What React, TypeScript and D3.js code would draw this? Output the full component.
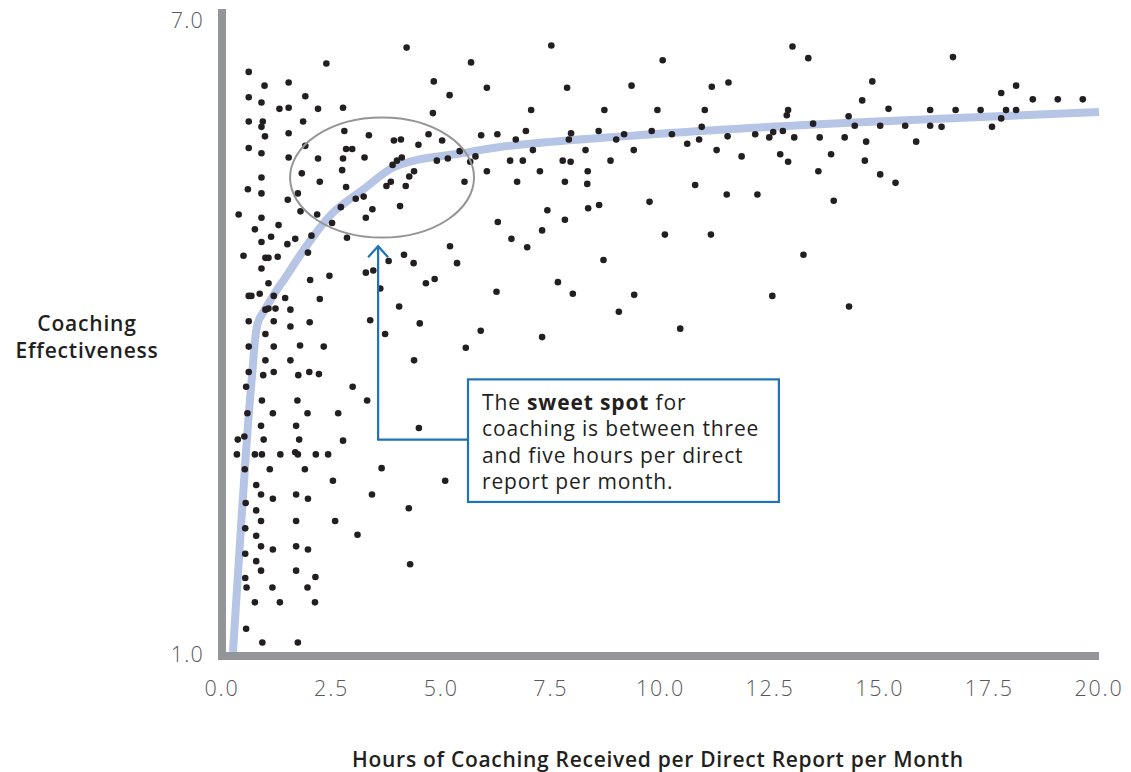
import React from "react";
import * as d3 from "d3";

const hours = [
  2.38, 0.61, 0.97, 1.52, 0.61, 0.90, 1.90, 1.31, 1.52, 2.19,
  0.61, 0.93, 0.90, 1.85, 0.98, 1.52, 0.61, 0.90, 1.90, 1.52,
  2.19, 1.82, 2.23, 0.90, 0.59, 0.90, 1.73, 1.50, 1.79, 2.17,
  0.38, 0.90, 1.29, 0.75, 1.12, 1.67, 2.04, 0.90, 1.49, 2.51,
  0.49, 0.99, 1.06, 1.27, 1.96, 0.90, 1.06, 2.01, 2.45, 0.61,
  0.67, 0.86, 1.18, 1.44, 2.23, 0.99, 1.06, 1.22, 1.56, 0.61,
  1.18, 1.56, 2.00, 0.99, 0.61, 1.18, 1.78, 2.32, 0.99, 1.56,
  0.61, 0.94, 1.18, 1.74, 1.99, 2.21, 0.55, 0.91, 1.72, 0.58,
  1.16, 1.95, 0.89, 1.69, 0.36, 0.51, 0.95, 1.76, 0.34, 0.75,
  0.91, 1.33, 1.67, 1.73, 2.14, 2.42, 0.52, 1.09, 1.89, 2.53,
  0.78, 0.89, 1.16, 1.69, 1.96, 0.54, 0.78, 0.89, 1.69, 2.58,
  0.53, 0.78, 0.89, 1.16, 1.69, 1.96, 0.53, 0.78, 0.89, 1.69,
  2.13, 0.53, 0.56, 1.15, 1.95, 0.75, 1.32, 2.12, 0.55, 0.92,
  1.73, 4.21, 5.68, 4.83, 6.04, 5.19, 2.76, 4.81, 2.79, 3.35,
  3.92, 4.08, 4.71, 4.48, 5.02, 5.91, 6.28, 2.83, 2.97, 2.76,
  3.25, 3.89, 3.99, 4.10, 5.42, 4.90, 5.15, 5.66, 5.78, 2.74,
  4.38, 4.27, 6.04, 2.83, 3.75, 3.85, 4.19, 5.53, 3.05, 3.23,
  2.71, 3.43, 4.06, 3.28, 2.85, 6.29, 5.20, 4.15, 3.80, 4.37,
  5.36, 3.28, 3.45, 4.65, 4.85, 3.61, 6.26, 4.04, 3.38, 4.51,
  3.72, 5.90, 5.56, 4.38, 2.98, 3.31, 2.65, 4.49, 2.76, 3.64,
  5.09, 3.42, 4.26, 3.09, 4.29, 7.51, 10.05, 7.87, 9.34, 7.05,
  8.72, 9.93, 6.93, 6.70, 7.96, 7.91, 8.59, 9.17, 8.99, 9.80,
  10.26, 10.88, 10.61, 7.09, 8.29, 9.39, 6.57, 6.86, 7.77, 7.95,
  8.86, 7.25, 8.34, 6.73, 7.82, 8.33, 10.79, 9.75, 7.42, 8.35,
  8.60, 7.82, 7.30, 10.10, 6.60, 6.96, 8.70, 7.66, 8.00, 9.40,
  9.05, 10.45, 7.30, 13.01, 13.37, 11.17, 11.55, 14.83, 11.01, 14.60,
  12.91, 12.88, 15.20, 14.29, 10.94, 13.48, 14.43, 15.01, 11.53, 12.16,
  12.48, 12.57, 12.79, 13.05, 13.63, 14.20, 14.69, 11.28, 11.85, 12.73,
  12.91, 13.89, 14.66, 13.60, 15.01, 15.36, 11.51, 12.21, 13.95, 11.15,
  13.26, 12.55, 14.30, 16.67, 18.11, 17.77, 18.49, 19.06, 19.63, 16.15,
  16.73, 17.30, 17.88, 18.11, 17.77, 15.58, 16.15, 16.41, 17.56, 15.83,
];

const effectiveness = [
  6.57, 6.49, 6.36, 6.39, 6.25, 6.20, 6.26, 6.14, 6.15, 6.14,
  6.02, 6.02, 5.97, 6.02, 5.88, 5.91, 5.77, 5.72, 5.79, 5.68,
  5.67, 5.53, 5.45, 5.49, 5.38, 5.34, 5.34, 5.28, 5.17, 5.14,
  5.14, 5.11, 5.04, 5.00, 4.93, 4.91, 4.94, 4.88, 4.86, 5.06,
  4.75, 4.73, 4.73, 4.74, 4.78, 4.63, 4.49, 4.52, 4.56, 4.37,
  4.37, 4.39, 4.37, 4.35, 4.34, 4.24, 4.25, 4.25, 4.24, 4.13,
  4.13, 4.08, 4.12, 4.01, 3.89, 3.89, 3.90, 3.89, 3.76, 3.76,
  3.65, 3.62, 3.65, 3.62, 3.65, 3.63, 3.51, 3.38, 3.38, 3.26,
  3.26, 3.26, 3.14, 3.14, 3.01, 3.04, 3.01, 3.01, 2.87, 2.87,
  2.87, 2.87, 2.89, 2.87, 2.87, 2.87, 2.73, 2.73, 2.73, 2.62,
  2.58, 2.49, 2.45, 2.49, 2.45, 2.41, 2.34, 2.24, 2.24, 2.24,
  2.17, 2.10, 2.00, 1.97, 2.00, 1.97, 1.93, 1.86, 1.77, 1.77,
  1.71, 1.70, 1.61, 1.61, 1.61, 1.47, 1.47, 1.47, 1.22, 1.09,
  1.09, 6.72, 6.58, 6.40, 6.34, 6.27, 6.15, 6.10, 5.93, 5.89,
  5.84, 5.85, 5.90, 5.80, 5.84, 5.89, 5.90, 5.76, 5.76, 5.67,
  5.68, 5.61, 5.65, 5.68, 5.74, 5.65, 5.67, 5.64, 5.69, 5.56,
  5.55, 5.50, 5.55, 5.40, 5.41, 5.45, 5.41, 5.45, 5.29, 5.31,
  5.21, 5.19, 5.22, 5.11, 4.92, 5.07, 4.84, 4.76, 4.70, 4.68,
  4.68, 4.59, 4.61, 4.49, 4.53, 4.44, 4.41, 4.27, 4.14, 4.11,
  4.01, 4.04, 3.88, 3.76, 3.51, 3.38, 3.26, 3.12, 3.00, 2.74,
  2.62, 2.49, 2.36, 2.11, 1.83, 6.74, 6.60, 6.34, 6.36, 6.13,
  6.13, 6.13, 5.93, 5.85, 5.91, 5.85, 5.93, 5.90, 5.85, 5.93,
  5.90, 5.85, 5.81, 5.75, 5.75, 5.75, 5.65, 5.65, 5.65, 5.64,
  5.65, 5.55, 5.55, 5.45, 5.45, 5.43, 5.42, 5.26, 5.18, 5.20,
  5.23, 5.09, 4.99, 4.95, 4.91, 4.83, 4.71, 4.50, 4.39, 4.38,
  4.22, 4.06, 3.98, 6.73, 6.62, 6.35, 6.39, 6.40, 6.13, 6.22,
  6.13, 6.08, 6.14, 6.07, 5.97, 6.00, 5.98, 5.98, 5.88, 5.90,
  5.87, 5.92, 5.93, 5.87, 5.87, 5.87, 5.83, 5.75, 5.69, 5.71,
  5.64, 5.71, 5.65, 5.55, 5.52, 5.44, 5.33, 5.33, 5.27, 4.95,
  4.76, 4.37, 4.27, 6.63, 6.36, 6.29, 6.23, 6.23, 6.23, 6.13,
  6.13, 6.13, 6.13, 6.13, 6.05, 5.98, 5.98, 5.97, 5.97, 5.83,
];

const curveHours = [0.25, 0.40, 0.55, 0.68, 0.82, 0.95, 1.18, 1.44, 1.94, 2.51, 3.26, 3.88, 4.47, 5.47, 6.34, 10.90, 15.46, 20.0];
const curveEff = [1.0, 1.97, 2.91, 3.59, 4.12, 4.22, 4.38, 4.54, 4.85, 5.15, 5.39, 5.58, 5.66, 5.72, 5.78, 5.93, 6.03, 6.11];

const xTicks = [0, 2.5, 5, 7.5, 10, 12.5, 15, 17.5, 20];
const yTicks = [1, 7];

const FONT = "'Open Sans', sans-serif";

export default function App() {
  const W = 1131, H = 772;
  const x = d3.scaleLinear().domain([0, 20]).range([222, 1099]);
  const y = d3.scaleLinear().domain([1, 7]).range([652, 18]);

  const pts = hours.map((h, i) => [h, effectiveness[i]] as [number, number]);
  const curvePts = curveHours.map((h, i) => [h, curveEff[i]] as [number, number]);
  const line = d3.line<[number, number]>()
    .x(d => x(d[0]))
    .y(d => y(d[1]))
    .curve(d3.curveCatmullRom.alpha(0.5));

  const axisColor = "#939598";
  const dark = "#231f20";
  const blue = "#1f73b7";
  const tickColor = "#58595b";

  const arrowX = x(3.56);
  const arrowTip = y(4.84);
  const elbowY = y(3.01);
  const boxL = x(5.61), boxR = x(12.70), boxT = y(3.58), boxB = y(2.42);

  return (
    <div style={{ position: "absolute", left: 0, top: 0 }}>
      <svg width={W} height={H} style={{ display: "block", background: "#fff" }}>
        <path d={line(curvePts) || ""} fill="none" stroke="#b6c4e6" strokeWidth={8} strokeLinecap="butt" />
        {pts.map((d, i) => (
          <circle key={i} cx={x(d[0])} cy={y(d[1])} r={3.3} fill={dark} />
        ))}
        <ellipse cx={x(3.65)} cy={y(5.49)} rx={92} ry={60} fill="none" stroke="#939598" strokeWidth={2} />
        <rect x={218} y={9} width={8} height={651} fill={axisColor} />
        <rect x={218} y={652} width={881} height={8} fill={axisColor} />
        {yTicks.map(t => (
          <text key={t} x={204} y={y(t) + 9.5} textAnchor="end" fontFamily={FONT} fontSize={21.5} fontWeight={300} letterSpacing={1.2} fill={tickColor}>
            {t.toFixed(1)}
          </text>
        ))}
        {xTicks.map(t => (
          <text key={t} x={x(t)} y={696} textAnchor="middle" fontFamily={FONT} fontSize={21.5} fontWeight={300} letterSpacing={1.8} fill={tickColor}>
            {t.toFixed(1)}
          </text>
        ))}
        <text x={87} y={331} textAnchor="middle" fontFamily={FONT} fontSize={21} fontWeight={600} letterSpacing={0.8} fill={dark}>Coaching</text>
        <text x={87} y={358} textAnchor="middle" fontFamily={FONT} fontSize={21} fontWeight={600} letterSpacing={0.8} fill={dark}>Effectiveness</text>
        <text x={658} y={767} textAnchor="middle" fontFamily={FONT} fontSize={21} fontWeight={600} letterSpacing={0.7} fill={dark}>
          Hours of Coaching Received per Direct Report per Month
        </text>
        <path d={`M${boxL},${elbowY} H${arrowX} V${arrowTip}`} fill="none" stroke={blue} strokeWidth={2.2} />
        <path d={`M${arrowX - 10},${arrowTip + 11} L${arrowX},${arrowTip} L${arrowX + 10},${arrowTip + 11}`} fill="none" stroke={blue} strokeWidth={2.2} />
        <rect x={boxL} y={boxT} width={boxR - boxL} height={boxB - boxT} fill="#fff" stroke={blue} strokeWidth={2.2} />
        <text fontFamily={FONT} fontSize={21} letterSpacing={0.85} fill={dark}>
          <tspan x={boxL + 14} y={409.5}>The <tspan fontWeight={700}>sweet spot</tspan> for</tspan>
          <tspan x={boxL + 14} y={436}>coaching is between three</tspan>
          <tspan x={boxL + 14} y={462.5}>and five hours per direct</tspan>
          <tspan x={boxL + 14} y={489}>report per month.</tspan>
        </text>
      </svg>
    </div>
  );
}
